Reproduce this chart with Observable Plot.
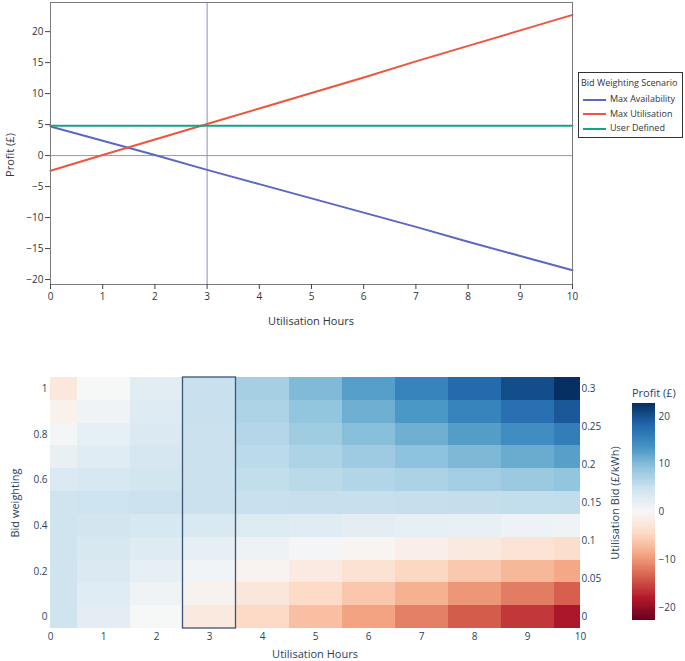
<!DOCTYPE html>
<html><head><meta charset="utf-8">
<script src="https://cdn.jsdelivr.net/npm/d3@7"></script>
<script src="https://cdn.jsdelivr.net/npm/@observablehq/plot@0.6"></script>
<style>
body{margin:0;background:#fff;}
#root{position:relative;width:685px;height:661px;font-family:"Open Sans",sans-serif;overflow:hidden;background:#fff;}
.abs{position:absolute;white-space:nowrap;line-height:1;}
.rot{transform:translate(-50%,-50%) rotate(-90deg);}
.ctr{transform:translate(-50%,-50%);}
</style></head><body><div id="root"></div>
<script>
// ---------- data ----------
const hours = [0, 1, 2, 3, 4, 5, 6, 7, 8, 9, 10];
const scenarios = ["Max Availability", "Max Utilisation", "User Defined"];
const maxAvailability = [4.7, 2.4, 0.1, -2.3, -4.6, -6.9, -9.2, -11.5, -13.9, -16.2, -18.5];
const maxUtilisation = [-2.45, 0.1, 2.6, 5.1, 7.6, 10.1, 12.6, 15.2, 17.7, 20.2, 22.7];
const userDefined = [4.8, 4.8, 4.8, 4.8, 4.8, 4.8, 4.8, 4.8, 4.8, 4.8, 4.8];
const selectedHours = 3;
const profitTicks = [-20, -15, -10, -5, 0, 5, 10, 15, 20];

const bidWeightings = [0, 0.1, 0.2, 0.3, 0.4, 0.5, 0.6, 0.7, 0.8, 0.9, 1];
const bidWeightingTicks = [0, 0.2, 0.4, 0.6, 0.8, 1];
const utilisationBidTicks = [0, 0.05, 0.1, 0.15, 0.2, 0.25, 0.3];
const maxUtilisationBid = 0.3;
const colorbarTicks = [-20, -10, 0, 10, 20];
const profitLimit = 22.7;
// rows: bid weighting 0 .. 1 ; columns: utilisation hours 0 .. 10
const profitGrid = [
  [4.7, 2.4, 0.1, -2.3, -4.6, -6.9, -9.2, -11.5, -13.9, -16.2, -18.5],
  [4.7, 2.9, 1.0, -0.8, -2.6, -4.5, -6.3, -8.1, -10.0, -11.8, -13.6],
  [4.7, 3.4, 2.0, 0.7, -0.7, -2.1, -3.4, -4.8, -6.1, -7.5, -8.8],
  [4.7, 3.8, 3.0, 2.1, 1.2, 0.4, -0.5, -1.4, -2.3, -3.1, -4.0],
  [4.7, 4.3, 3.9, 3.6, 3.2, 2.8, 2.4, 2.0, 1.7, 1.3, 0.9],
  [4.7, 4.8, 4.9, 5.0, 5.1, 5.2, 5.3, 5.4, 5.5, 5.6, 5.7],
  [3.3, 3.9, 4.4, 5.0, 5.6, 6.2, 6.8, 7.3, 7.9, 8.5, 9.1],
  [1.8, 2.9, 4.0, 5.0, 6.1, 7.1, 8.2, 9.3, 10.3, 11.4, 12.4],
  [0.4, 2.0, 3.5, 5.0, 6.6, 8.1, 9.7, 11.2, 12.7, 14.3, 15.8],
  [-1.0, 1.0, 3.0, 5.1, 7.1, 9.1, 11.2, 13.2, 15.2, 17.2, 19.3],
  [-2.5, 0.1, 2.6, 5.1, 7.6, 10.1, 12.6, 15.2, 17.7, 20.2, 22.7]
];

// ---------- styles ----------
const lineColors = ["#5b68c3", "#ef553b", "#14a586"];
const rdbu = ["rgb(103,0,31)","rgb(178,24,43)","rgb(214,96,77)","rgb(244,165,130)","rgb(253,219,199)","rgb(247,247,247)","rgb(209,229,240)","rgb(146,197,222)","rgb(67,147,195)","rgb(33,102,172)","rgb(5,48,97)"];
const colorScale = {type: "linear", domain: rdbu.map((_, i) => -profitLimit + i * 2 * profitLimit / (rdbu.length - 1)), range: rdbu, interpolate: "rgb"};
const heatText = "#2a3f5f";

const root = document.getElementById("root");
function place(el, left, top) { el.style.position = "absolute"; el.style.left = left + "px"; el.style.top = top + "px"; root.appendChild(el); }
function label(text, x, y, cls, opts = {}) {
  const d = document.createElement("div");
  d.className = "abs " + cls;
  d.textContent = text;
  d.style.left = x + "px"; d.style.top = y + "px";
  d.style.fontSize = (opts.size || 11) + "px";
  d.style.color = opts.color || "#333";
  root.appendChild(d);
  return d;
}

// ---------- top line chart ----------
const series = [maxAvailability, maxUtilisation, userDefined];
const lines = scenarios.flatMap((s, si) => hours.map((h, i) => ({scenario: s, hours: h, profit: series[si][i]})));

const topPlot = Plot.plot({
  width: 685, height: 335,
  marginLeft: 50, marginRight: 113, marginTop: 2, marginBottom: 51,
  style: {fontFamily: "Open Sans", fontSize: "10px", color: "#333", background: "transparent"},
  x: {domain: [0, 10]},
  y: {domain: [-20.8, 24.7]},
  color: {domain: scenarios, range: lineColors},
  marks: [
    Plot.ruleY([0], {stroke: "#9a9a9a", strokeWidth: 1}),
    Plot.ruleX([selectedHours], {stroke: "#8d8fb2", strokeWidth: 1}),
    Plot.line(lines, {x: "hours", y: "profit", z: "scenario", stroke: "scenario", strokeWidth: 2}),
    Plot.frame({stroke: "#7a7a7a"}),
    Plot.axisX({ticks: hours, tickSize: 5, tickPadding: 3, label: null, stroke: "#444"}),
    Plot.axisY({ticks: profitTicks, tickSize: 5, tickPadding: 2, label: null, stroke: "#444"})
  ]
});
place(topPlot, 0, 0);
label("Profit (£)", 9, 155, "rot", {size: 11});
label("Utilisation Hours", 311, 320, "ctr", {size: 11});

// legend
const leg = document.createElement("div");
leg.style.cssText = "position:absolute;left:578px;top:72px;width:105px;height:66px;border:1px solid #333;box-sizing:border-box;background:#fff;font-size:9px;color:#333;";
root.appendChild(leg);
const lt = document.createElement("div");
lt.textContent = "Bid Weighting Scenario";
lt.style.cssText = "position:absolute;left:2px;top:5px;white-space:nowrap;line-height:1;";
leg.appendChild(lt);
scenarios.forEach((s, i) => {
  const row = document.createElement("div");
  row.style.cssText = `position:absolute;left:4px;top:${21 + i * 14.6}px;height:10px;white-space:nowrap;line-height:10px;`;
  row.innerHTML = `<span style="display:inline-block;width:23px;height:2px;background:${lineColors[i]};vertical-align:middle;margin-right:4px;"></span>${s}`;
  leg.appendChild(row);
});

// ---------- heatmap ----------
const cells = profitGrid.flatMap((row, wi) => row.map((p, hi) => ({w: bidWeightings[wi], h: hours[hi], profit: p})));

const heat = Plot.plot({
  width: 685, height: 326,
  marginLeft: 50, marginRight: 105, marginTop: 42, marginBottom: 33,
  style: {fontFamily: "Open Sans", fontSize: "10px", color: heatText, background: "transparent"},
  x: {domain: [0, 10]},
  y: {domain: [-0.05, 1.05]},
  color: colorScale,
  marks: [
    Plot.rect(cells, {x1: d => d.h - 0.5, x2: d => d.h + 0.5, y1: d => d.w - 0.05, y2: d => d.w + 0.05, fill: "profit", clip: true, shapeRendering: "crispEdges"}),
    Plot.rect([selectedHours], {x1: d => d - 0.5, x2: d => d + 0.5, y1: () => -0.05, y2: () => 1.05, fill: "none", stroke: "#3d5473", strokeWidth: 1.3}),
    Plot.axisX({ticks: hours, tickSize: 0, tickPadding: 4, label: null}),
    Plot.axisY({ticks: bidWeightingTicks, tickSize: 0, tickPadding: 3, tickFormat: d => String(d), label: null}),
    Plot.axisY({anchor: "right", ticks: utilisationBidTicks.map(b => b / maxUtilisationBid), tickSize: 0, tickPadding: 1, tickFormat: d => String(+(d * maxUtilisationBid).toFixed(2)), label: null})
  ]
});
place(heat, 0, 335);
label("Bid weighting", 14, 503, "rot", {size: 11, color: heatText});
label("Utilisation Bid (£/kWh)", 614, 503, "rot", {size: 11, color: heatText});
label("Utilisation Hours", 315, 653, "ctr", {size: 11, color: heatText});

// ---------- colorbar ----------
const barSteps = d3.range(-profitLimit, profitLimit, 0.25);
const bar = Plot.plot({
  width: 85, height: 260,
  marginLeft: 32, marginRight: 30, marginTop: 23, marginBottom: 20,
  style: {fontFamily: "Open Sans", fontSize: "10px", color: heatText, background: "transparent"},
  x: {domain: [0, 1], axis: null},
  y: {domain: [-profitLimit, profitLimit]},
  color: colorScale,
  marks: [
    Plot.rect(barSteps, {x1: () => 0, x2: () => 1, y1: d => d, y2: d => Math.min(d + 0.25, profitLimit), fill: d => d + 0.125, shapeRendering: "crispEdges"}),
    Plot.axisY({anchor: "right", ticks: colorbarTicks, tickSize: 0, tickPadding: 3, label: null})
  ]
});
place(bar, 600, 380);
label("Profit (£)", 632, 387, "", {size: 11, color: heatText});
</script></body></html>
